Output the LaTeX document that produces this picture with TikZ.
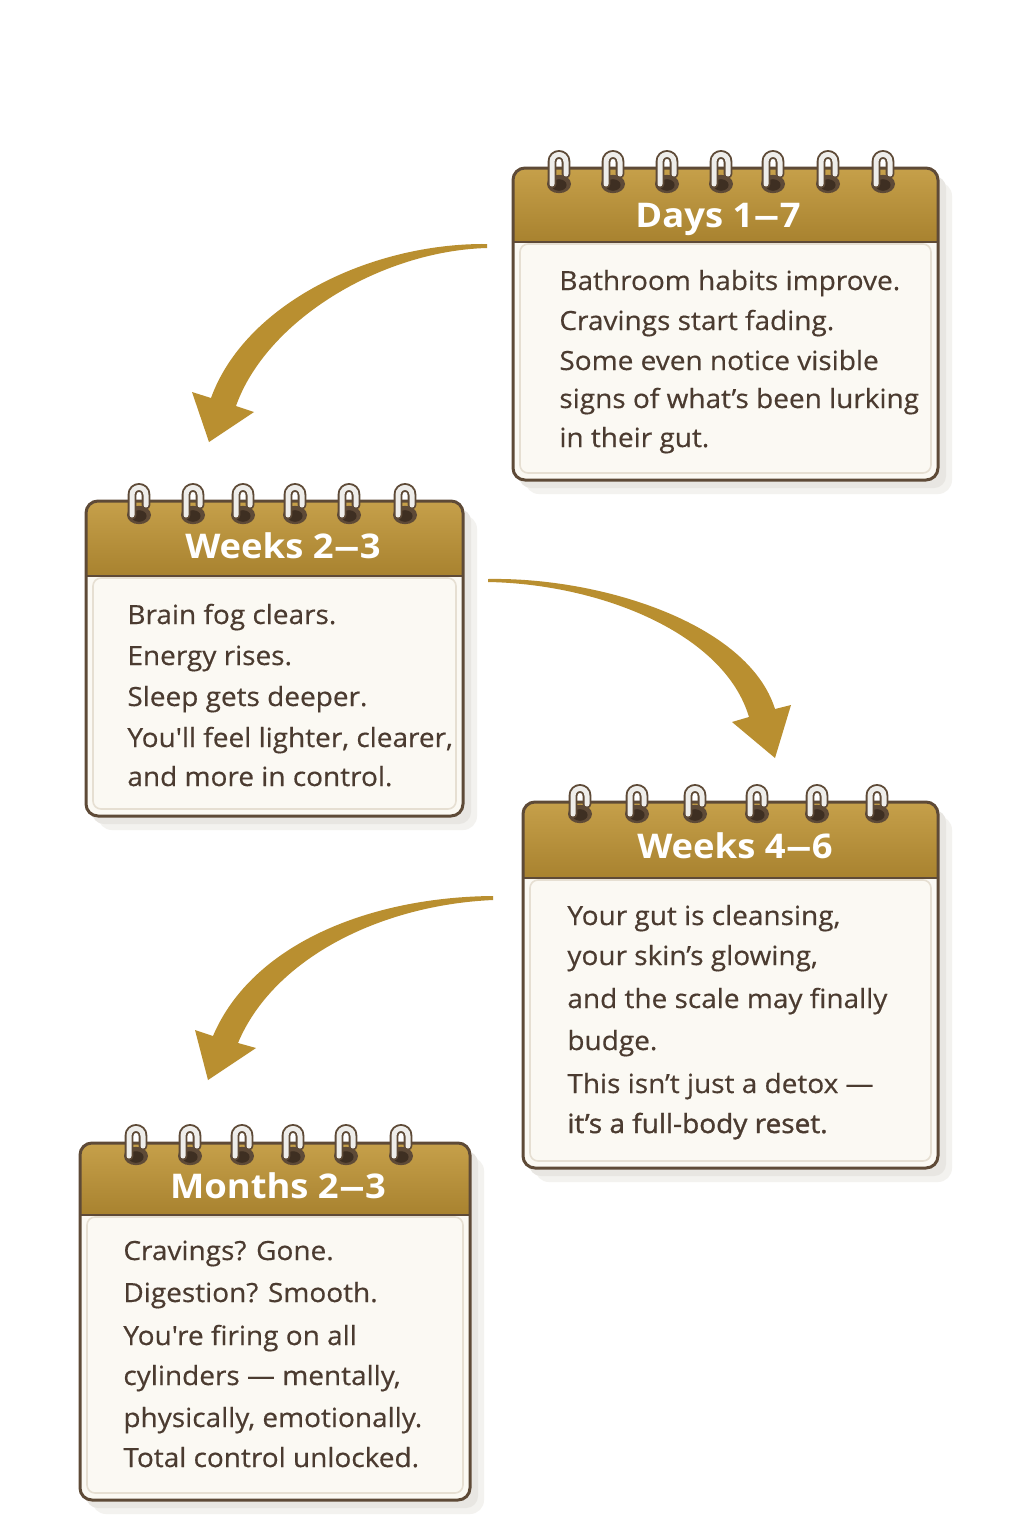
\documentclass[tikz,border=0pt]{standalone}
\usepackage{fontspec}
\setmainfont{Open Sans}
\newfontfamily\bodyfont{Open Sans}[FakeStretch=1.06, FakeBold=0.45]
\newfontfamily\bodyfontb{Open Sans}[FakeStretch=1.06, FakeBold=1.3]
\newfontfamily\headfont{Open Sans Bold}[FakeStretch=1.07]
\definecolor{ink}{HTML}{4B3B30}
\definecolor{frame}{HTML}{5E4A37}
\definecolor{hdtop}{HTML}{C6A04A}
\definecolor{hdbot}{HTML}{A8822F}
\definecolor{paper}{HTML}{FBF9F3}
\definecolor{paperline}{HTML}{E6DFD2}
\definecolor{shadowc}{HTML}{E8E6E2}
\definecolor{shadowl}{HTML}{F3F2EF}
\definecolor{gold}{HTML}{B98F30}
\definecolor{ringw}{HTML}{EEEDEA}
\definecolor{holec}{HTML}{3E2F22}
\newcommand\hdash{\scalebox{1.45}[1]{–}}
\tikzset{
  bodytext/.style={anchor=base west, inner sep=0pt, text=ink, font=\bodyfont\fontsize{13.2}{15}\selectfont},
  headtext/.style={anchor=base, inner sep=0pt, text=white, font=\headfont\fontsize{17}{20}\selectfont},
  framed/.style={draw=frame, line width=1.5pt, rounded corners=6pt},
}
% card: left, top, right, header-bottom, bottom
\newcommand\calcard[5]{%
  \fill[shadowl, rounded corners=7pt] ({#1+12},{#2+14}) rectangle ({#3+14},{#5+14});
  \fill[shadowc, rounded corners=6pt] ({#1+6},{#2+8}) rectangle ({#3+8},{#5+8});
  \fill[paper, rounded corners=6pt] (#1,#2) rectangle (#3,#5);
  \begin{scope}
    \clip[rounded corners=6pt] (#1,#2) rectangle (#3,#5);
    \shade[top color=hdtop, bottom color=hdbot] (#1,#2) rectangle (#3,#4);
  \end{scope}
  \draw[paperline, line width=0.8pt, rounded corners=4pt] ({#1+7},{#4+2}) rectangle ({#3-7},{#5-7});
  \draw[frame, line width=1.2pt] (#1,#4) -- (#3,#4);
  \draw[framed] (#1,#2) rectangle (#3,#5);
}
% ring: x, loop top, hole centre
\newcommand\ringat[3]{%
  \fill[frame] (#1,{#3}) ellipse [x radius=6pt, y radius=4.6pt];
  \fill[holec] (#1,{#3+1}) ellipse [x radius=3.8pt, y radius=2.9pt];
  \draw[frame, line width=4.4pt, line cap=round] ({#1-7},{#3}) -- ({#1-7},{#2+8}) .. controls ({#1-7},{#2-2}) and ({#1+7},{#2-2}) .. ({#1+7},{#2+8}) -- ({#1+7},{#3-10});
  \draw[ringw, line width=2.5pt, line cap=round] ({#1-7},{#3}) -- ({#1-7},{#2+8}) .. controls ({#1-7},{#2-2}) and ({#1+7},{#2-2}) .. ({#1+7},{#2+8}) -- ({#1+7},{#3-10});
}
\begin{document}
\begin{tikzpicture}[x=0.5pt,y=-0.5pt]
\useasboundingbox (0,0) rectangle (1024,1536);
\fill[white] (0,0) rectangle (1024,1536);

% ---------- arrows ----------
\coordinate (a1tail) at (487,246);
\coordinate (a1tip) at (209,442);
\fill[gold] (487,244) .. controls (370,243) and (245,304) .. (211,398)
  -- (192,392) -- (a1tip) -- (254,412) -- (236,406)
  .. controls (266,321) and (380,251) .. (487,248) -- cycle;

\coordinate (a2tail) at (488,580);
\coordinate (a2tip) at (775,758);
\fill[gold] (488,579) .. controls (600,577) and (748,623) .. (775,709)
  -- (791,705) -- (a2tip) -- (732,722) -- (749,717)
  .. controls (724,633) and (600,584) .. (488,582) -- cycle;

\coordinate (a3tail) at (493,898);
\coordinate (a3tip) at (208,1080);
\fill[gold] (493,896) .. controls (370,897) and (252,944) .. (213,1036)
  -- (195,1030) -- (a3tip) -- (256,1048) -- (238,1043)
  .. controls (273,959) and (380,905) .. (493,900) -- cycle;

% ---------- card 1 ----------
\calcard{513}{168}{938}{242}{480}
\foreach \x in {559,613,667,721,773,828,883} {\ringat{\x}{154}{184}}
\node[headtext] (h1) at (718,227) {Days 1\hdash7};
\node[bodytext] (c1a) at (559,290) {Bathroom habits improve.};
\node[bodytext] (c1b) at (559,330) {Cravings start fading.};
\node[bodytext] (c1c) at (559,370) {Some even notice visible};
\node[bodytext] (c1d) at (559,408) {signs of what’s been lurking};
\node[bodytext] (c1e) at (559,447) {in their gut.};

% ---------- card 2 ----------
\calcard{86}{501}{463}{576}{816}
\foreach \x in {139,193,243,295,349,405} {\ringat{\x}{487}{515}}
\node[headtext] (h2) at (283,558) {Weeks 2\hdash3};
\node[bodytext] (c2a) at (127,624) {Brain fog clears.};
\node[bodytext] (c2b) at (127,665) {Energy rises.};
\node[bodytext] (c2c) at (127,706) {Sleep gets deeper.};
\node[bodytext] (c2d) at (127,747) {You'll feel lighter, clearer,};
\node[bodytext] (c2e) at (127,786) {and more in control.};

% ---------- card 3 ----------
\calcard{523}{802}{938}{878}{1168}
\foreach \x in {580,637,695,757,817,877} {\ringat{\x}{788}{814}}
\node[headtext] (h3) at (735,858) {Weeks 4\hdash6};
\node[bodytext] (c3a) at (567,925) {Your gut is cleansing,};
\node[bodytext] (c3b) at (567,965) {your skin’s glowing,};
\node[bodytext] (c3c) at (567,1008) {and the scale may finally};
\node[bodytext] (c3d) at (567,1050) {budge.};
\node[bodytext] (c3e) at (567,1093) {This isn’t just a detox —};
\node[bodytext, font=\bodyfontb\fontsize{13.2}{15}\selectfont] (c3f) at (567,1133) {it’s a full-body reset.};

% ---------- card 4 ----------
\calcard{80}{1143}{470}{1215}{1500}
\foreach \x in {136,190,242,293,346,401} {\ringat{\x}{1128}{1156}}
\node[headtext] (h4) at (278,1198) {Months 2\hdash3};
\node[bodytext] (c4a) at (123,1260) {Cravings? Gone.};
\node[bodytext] (c4b) at (123,1302) {Digestion? Smooth.};
\node[bodytext] (c4c) at (123,1345) {You're firing on all};
\node[bodytext] (c4d) at (123,1385) {cylinders — mentally,};
\node[bodytext] (c4e) at (123,1427) {physically, emotionally.};
\node[bodytext] (c4f) at (123,1467) {Total control unlocked.};
\end{tikzpicture}
\end{document}
